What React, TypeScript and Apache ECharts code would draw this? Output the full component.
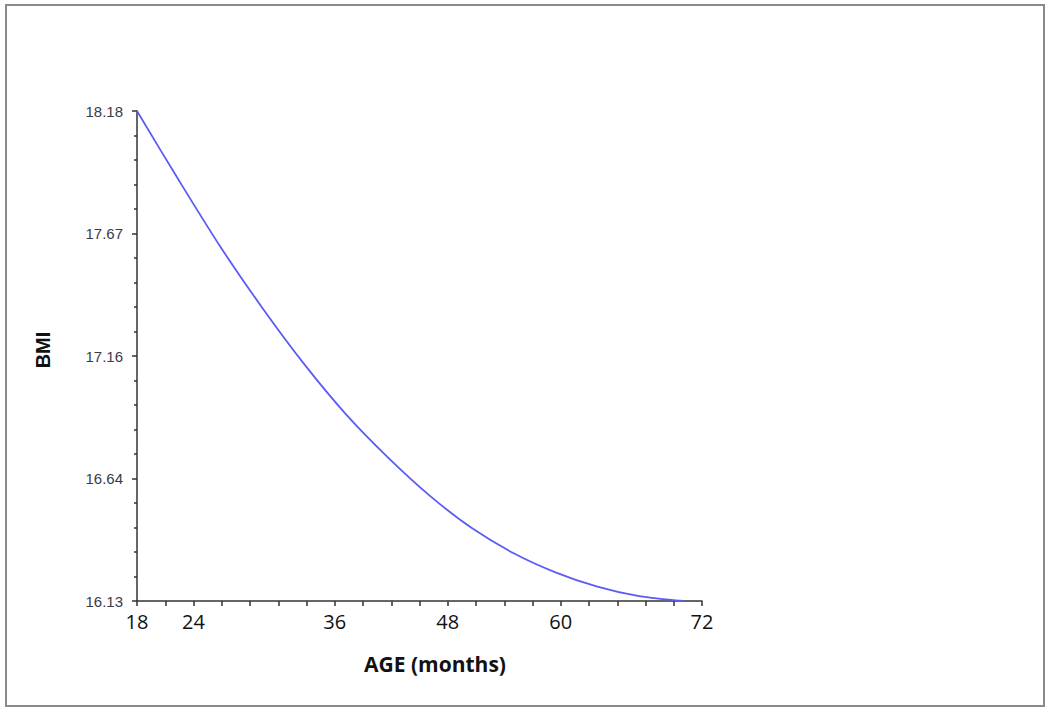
import React, { useEffect, useRef } from "react";
import * as echarts from "echarts";

// Data
const ages = [18, 22, 26, 30, 34, 38, 42, 46, 50, 54, 58, 62, 66, 70.2];
const bmi = [18.18, 17.89, 17.61, 17.355, 17.12, 16.91, 16.73, 16.57, 16.435, 16.33, 16.25, 16.19, 16.15, 16.13];

const xStart = 18;
const xEnd = 72;
const xTickStep = 2.7;
const xLabelIndex = [0, 2, 7, 11, 15, 20];
const xLabels = ["18", "24", "36", "48", "60", "72"];

const yMin = 16.13;
const yMax = 18.18;
const yLabels = ["16.13", "16.64", "17.16", "17.67", "18.18"];

const xTitle = "AGE (months)";
const yTitle = "BMI";

export default function App() {
  const ref = useRef<HTMLDivElement>(null);
  useEffect(() => {
    if (!ref.current) return;
    const chart = echarts.init(ref.current, null, { renderer: "svg" });
    const ySpan = yMax - yMin;
    const yStep = ySpan / (yLabels.length - 1);
    const data = ages.map((a, i) => [a - xStart, bmi[i] - yMin]);
    chart.setOption({
      animation: false,
      backgroundColor: "#ffffff",
      grid: { left: 137, right: 348, top: 111, bottom: 111, containLabel: false },
      xAxis: {
        type: "value",
        min: 0,
        max: xEnd - xStart,
        interval: xTickStep,
        axisLine: { show: true, onZero: false, lineStyle: { color: "#333333", width: 1.5 } },
        axisTick: { show: true, length: 5, lineStyle: { color: "#333333", width: 1.5 } },
        splitLine: { show: false },
        axisLabel: {
          margin: 10,
          color: "#111111",
          fontFamily: "Open Sans",
          fontSize: 20,
          showMinLabel: true,
          showMaxLabel: true,
          formatter: (v: number) => {
            const idx = Math.round(v / xTickStep);
            const k = xLabelIndex.indexOf(idx);
            return k >= 0 ? xLabels[k] : "";
          },
        },
      },
      yAxis: {
        type: "value",
        min: 0,
        max: ySpan,
        interval: yStep,
        axisLine: { show: true, lineStyle: { color: "#333333", width: 1.5 } },
        axisTick: { show: true, length: 5, lineStyle: { color: "#333333", width: 1.5 } },
        minorTick: { show: true, splitNumber: 5, length: 3, lineStyle: { color: "#333333", width: 1.5 } },
        splitLine: { show: false },
        axisLabel: {
          margin: 14,
          color: "#3a3a4a",
          fontFamily: "Liberation Sans",
          fontSize: 15,
          showMinLabel: true,
          showMaxLabel: true,
          formatter: (v: number) => {
            const idx = Math.round(v / yStep);
            return yLabels[idx] ?? "";
          },
        },
      },
      series: [
        {
          type: "line",
          data,
          smooth: 0.3,
          showSymbol: false,
          lineStyle: { color: "#5c5cf5", width: 1.8 },
        },
      ],
      graphic: [
        {
          type: "rect",
          shape: { x: 6, y: 5, width: 1038, height: 701 },
          style: { fill: "none", stroke: "#8a8a8a", lineWidth: 2 },
          silent: true,
        },
        {
          type: "text",
          x: 435,
          y: 664,
          style: {
            text: xTitle,
            fontFamily: "Open Sans",
            fontWeight: "bold",
            fontSize: 21,
            fill: "#111111",
            align: "center",
            verticalAlign: "middle",
          },
        },
        {
          type: "text",
          x: 43,
          y: 350,
          rotation: Math.PI / 2,
          style: {
            text: yTitle,
            fontFamily: "Liberation Sans",
            fontWeight: "bold",
            fontSize: 20,
            fill: "#111111",
            align: "center",
            verticalAlign: "middle",
          },
        },
      ],
    });
    return () => chart.dispose();
  }, []);
  return (
    <div
      ref={ref}
      style={{ position: "fixed", left: 0, top: 0, width: 1050, height: 712 }}
    />
  );
}
